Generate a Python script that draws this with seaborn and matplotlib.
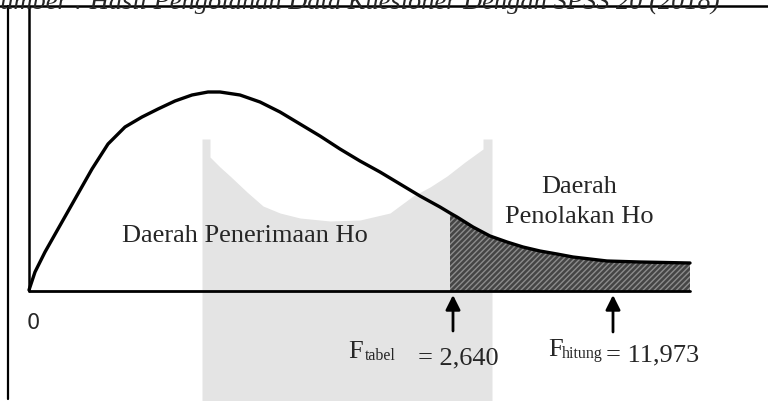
import matplotlib.pyplot as plt
import pandas as pd
import seaborn as sns

# curve of the F distribution (pixel units, y down)
curve_x = [29, 35, 45, 58, 75, 92, 108, 125, 142, 158, 175, 192, 208, 220,
           240, 260, 280, 300, 320, 340, 360, 380, 400, 420, 440, 450, 457,
           473, 490, 507, 523, 540, 557, 573, 590, 607, 640, 690]
curve_y = [291, 273, 253, 230, 200, 170, 145, 128, 118, 110, 102, 96, 93, 93,
           96, 103, 113, 125, 137, 150, 162, 173, 185, 197, 208, 214, 218,
           228, 237, 243, 248, 252, 255, 258, 260, 262, 263, 264]

# scanned grey patch behind the middle of the chart
patch_x = [202, 210, 210, 220, 230, 247, 263, 280, 300, 330, 360, 390, 413,
           430, 447, 465, 483, 483, 492]
patch_top = [140, 140, 158, 168, 177, 193, 207, 214, 219, 222, 221, 214, 197,
             188, 177, 163, 150, 140, 140]

baseline_y = 292
f_tabel_x = 453
f_hitung_x = 613
reject_start = 450

title = "Sumber : Hasil Pengolahan Data Kuesioner Dengan SPSS 20 (2018)"

sns.set_style("white")
plt.rcParams["font.family"] = ["Liberation Serif", "DejaVu Serif"]

curve = pd.DataFrame({"x": curve_x, "y": curve_y})

fig = plt.figure(figsize=(7.68, 4.02), dpi=100)
ax = fig.add_axes([0, 0, 1, 1])

# grey scan patch
ax.fill_between(patch_x, patch_top, 402, color="#e4e4e4", lw=0, zorder=0)

# rejection region
tail = curve[curve["x"] >= reject_start]
ax.fill_between(tail["x"], tail["y"], baseline_y, facecolor="#454545",
                edgecolor="#8c8c8c", hatch="//////", lw=0, zorder=1)

# frame lines
ax.axhline(7, color="black", lw=1.8, zorder=3)
ax.plot([8, 8], [7, 400], color="black", lw=1.6, zorder=3)
ax.plot([29, 29], [7, baseline_y], color="black", lw=1.8, zorder=3)
ax.plot([29, curve_x[-1]], [baseline_y, baseline_y], color="black", lw=2,
        zorder=3)

sns.lineplot(data=curve, x="x", y="y", sort=False, color="black", lw=2.4,
             solid_joinstyle="round", solid_capstyle="round", ax=ax,
             zorder=4)
ax.set_xlim(0, 768)
ax.set_ylim(402, 0)
ax.axis("off")

# arrows
for xa, tail_y in [(f_tabel_x, 332), (f_hitung_x, 333)]:
    ax.annotate("", xy=(xa, 296), xytext=(xa, tail_y),
                arrowprops=dict(arrowstyle="-|>", color="black", lw=2,
                                mutation_scale=22, shrinkA=0, shrinkB=0))

# texts
ax.text(-13, 9.5, title, fontsize=19, style="italic", va="baseline",
        ha="left")
ax.text(33, 323, "0", fontsize=15, family="DejaVu Sans", ha="center",
        va="center")
ax.text(245, 242, "Daerah Penerimaan Ho", fontsize=19, ha="center",
        va="baseline")
ax.text(579, 193, "Daerah", fontsize=19, ha="center", va="baseline")
ax.text(579, 223, "Penolakan Ho", fontsize=19, ha="center", va="baseline")

ax.text(348, 358, "F", fontsize=19, va="baseline")
ax.text(365, 360, "tabel", fontsize=11.5, va="baseline")
ax.text(418, 364, "= 2,640", fontsize=19, va="baseline")

ax.text(548, 356, "F", fontsize=19, va="baseline")
ax.text(562, 358, "hitung", fontsize=11.5, va="baseline")
ax.text(606, 361, "= 11,973", fontsize=19, va="baseline")

fig.savefig("out.png", dpi=100)
